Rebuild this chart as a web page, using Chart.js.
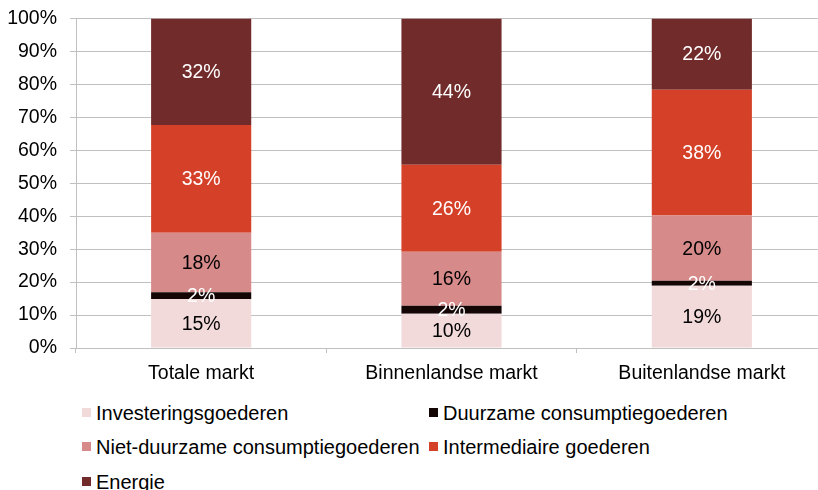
<!DOCTYPE html>
<html>
<head>
<meta charset="utf-8">
<script src="https://cdn.jsdelivr.net/npm/chart.js@4/dist/chart.umd.min.js"></script>
<style>
    html, body { margin: 0; padding: 0; background: #fff; width: 818px; height: 490px; overflow: hidden; }
    #chart { position: absolute; left: 0; top: 0; }
    .lg-item { position: absolute; height: 20px; white-space: nowrap; }
    .lg-box { position: absolute; left: 0; top: 5px; width: 9px; height: 9px; }
    .lg-text {
        position: absolute; left: 14px; top: 0;
        font: 20px "Liberation Sans", Arial, sans-serif; line-height: 20px; color: #000;
    }
</style>
</head>
<body>
<canvas id="chart" width="830" height="392"></canvas>
<div id="legend"></div>
<script>
// categorieën en aandelen (%) per productgroep
const categories = ["Totale markt", "Binnenlandse markt", "Buitenlandse markt"];
const seriesNames = [
    "Investeringsgoederen",
    "Duurzame consumptiegoederen",
    "Niet-duurzame consumptiegoederen",
    "Intermediaire goederen",
    "Energie"
];
const investering = [14.9, 10.4, 18.9];
const duurzaam    = [2.0, 2.4, 1.5];
const nietDuurzaam = [18.1, 16.4, 19.8];
const intermediair = [32.7, 26.4, 38.2];
const energie     = [32.3, 44.4, 21.6];
const yTicks = [0, 10, 20, 30, 40, 50, 60, 70, 80, 90, 100];

const colors = ["#F2DADA", "#150606", "#D68A89", "#D54128", "#722B2B"];
const labelColors = ["#000", "#fff", "#000", "#fff", "#fff"];
const values = [investering, duurzaam, nietDuurzaam, intermediair, energie];

const FONT = '"Liberation Sans", Arial, sans-serif';
const GRID = "#c0c0c0";

// percentages midden in elk segment
const segmentLabels = {
    id: "segmentLabels",
    afterDatasetsDraw(chart) {
        const ctx = chart.ctx;
        ctx.save();
        ctx.font = "19.5px " + FONT;
        ctx.textAlign = "center";
        ctx.textBaseline = "middle";
        chart.data.datasets.forEach((ds, i) => {
            const meta = chart.getDatasetMeta(i);
            meta.data.forEach((bar, j) => {
                ctx.fillStyle = labelColors[i];
                ctx.fillText(Math.round(ds.data[j]) + "%", bar.x, (bar.y + bar.base) / 2 + 1);
            });
        });
        ctx.restore();
    }
};

const chart = new Chart(document.getElementById("chart"), {
    type: "bar",
    data: {
        labels: categories,
        datasets: seriesNames.map((name, i) => ({
            label: name,
            data: values[i],
            backgroundColor: colors[i],
            borderWidth: 0,
            barPercentage: 0.4,
            categoryPercentage: 1
        }))
    },
    options: {
        responsive: false,
        animation: false,
        devicePixelRatio: 1,
        layout: { padding: { top: 18.5, right: 3, left: 0, bottom: 0 } },
        plugins: {
            legend: { display: false },
            tooltip: { enabled: false }
        },
        scales: {
            x: {
                stacked: true,
                grid: { drawOnChartArea: false, drawTicks: true, tickLength: 5, color: GRID },
                border: { color: GRID },
                ticks: { color: "#000", font: { family: FONT, size: 19.5 }, padding: 9, maxRotation: 0 },
                afterFit(s) { s.height = 44; s.paddingLeft = 0; s.paddingRight = 0; }
            },
            y: {
                stacked: true,
                min: 0,
                max: 100,
                afterBuildTicks(s) { s.ticks = yTicks.map(v => ({ value: v })); },
                grid: { color: GRID, tickLength: 6 },
                border: { color: GRID },
                ticks: {
                    color: "#000",
                    font: { family: FONT, size: 19.5 },
                    padding: 13,
                    callback: v => v + "%"
                },
                afterFit(s) { s.width = 76; s.paddingTop = 0; s.paddingBottom = 0; }
            }
        }
    },
    plugins: [segmentLabels]
});

// legenda in twee kolommen
const legendPos = [[82, 402.5], [429, 402.5], [82, 437], [429, 437], [82, 471.5]];
const legend = document.getElementById("legend");
seriesNames.forEach((name, i) => {
    const item = document.createElement("div");
    item.className = "lg-item";
    item.style.left = legendPos[i][0] + "px";
    item.style.top = legendPos[i][1] + "px";
    item.innerHTML = `<span class="lg-box" style="background:${colors[i]}"></span><span class="lg-text">${name}</span>`;
    legend.appendChild(item);
});
</script>
</body>
</html>
